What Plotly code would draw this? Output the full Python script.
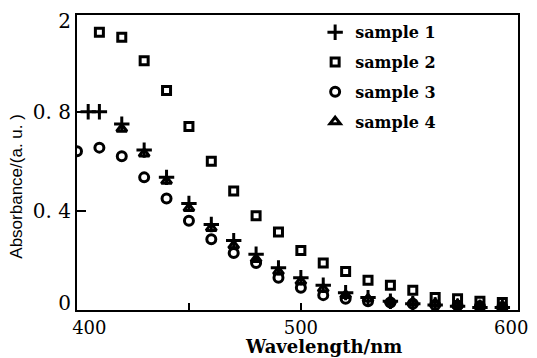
import plotly.graph_objects as go

# ---- data ----
wavelength = [400, 410, 420, 430, 440, 450, 460, 470, 480, 490,
              500, 510, 520, 530, 540, 550, 560, 570, 580, 590]

sample1_wl = [405, 410, 420, 430, 440, 450, 460, 470, 480, 490,
              500, 510, 520, 530, 540, 550, 560, 570, 580, 590]
sample1 = [0.80, 0.80, 0.75, 0.645, 0.535, 0.43, 0.345, 0.28, 0.225, 0.17,
           0.13, 0.10, 0.07, 0.05, 0.035, 0.025, 0.02, 0.015, 0.01, 0.01]

sample2_wl = [410, 420, 430, 440, 450, 460, 470, 480, 490, 500,
              510, 520, 530, 540, 550, 560, 570, 580, 590]
sample2 = [1.12, 1.10, 1.005, 0.885, 0.74, 0.60, 0.48, 0.38, 0.315, 0.24,
           0.19, 0.155, 0.12, 0.10, 0.08, 0.05, 0.045, 0.035, 0.03]

sample3_wl = wavelength
sample3 = [0.64, 0.655, 0.62, 0.535, 0.45, 0.36, 0.285, 0.23, 0.19, 0.13,
           0.09, 0.06, 0.045, 0.035, 0.03, 0.025, 0.02, 0.018, 0.015, 0.012]

sample4_wl = [420, 430, 440, 450, 460, 470, 480, 490, 500,
              510, 520, 530, 540, 550, 560, 570, 580, 590]
sample4 = [0.73, 0.63, 0.52, 0.41, 0.33, 0.26, 0.205, 0.155, 0.115,
           0.085, 0.06, 0.045, 0.035, 0.03, 0.025, 0.02, 0.015, 0.012]

# tick labels (label anchor positions nudged inward like the printed figure)
x_label_vals = [405.5, 500, 594]
x_label_text = ["400", "500", "600"]
x_tick_marks = [450, 500, 550]
y_label_vals = [0.03, 0.4, 0.8, 1.165]
y_label_text = ["0", "0. 4", "0. 8", "2"]
y_tick_marks = [0.4, 0.8]

series = [
    ("sample 1", sample1_wl, sample1, "cross-thin-open", 11),
    ("sample 2", sample2_wl, sample2, "square-open", 8),
    ("sample 3", sample3_wl, sample3, "circle-open", 9),
    ("sample 4", sample4_wl, sample4, "triangle-up-open", 9),
]

fig = go.Figure()
for i, (name, xs, ys, sym, sz) in enumerate(series):
    fig.add_trace(go.Scatter(
        x=xs, y=ys, mode="markers", name=name,
        legendgroup=f"g{i}",
        marker=dict(symbol=sym, size=sz, color="black",
                    line=dict(color="black", width=3)),
    ))

serif = "DejaVu Serif"
fig.update_layout(
    width=537, height=358,
    margin=dict(l=77, r=9, t=13, b=48),
    paper_bgcolor="white", plot_bgcolor="white",
    showlegend=True,
    legend=dict(
        x=0.54, y=0.999, xanchor="left", yanchor="top",
        bgcolor="rgba(0,0,0,0)", borderwidth=0,
        font=dict(family=serif, size=16, color="black", weight="bold"),
        traceorder="grouped", tracegroupgap=6,
    ),
    xaxis=dict(
        range=[400, 597], tickvals=x_label_vals, ticktext=x_label_text,
        ticks="",
        minor=dict(tickvals=x_tick_marks, ticks="inside", ticklen=7,
                   tickwidth=2, tickcolor="black", showgrid=False),
        showline=True, linecolor="black", linewidth=2, mirror=True,
        showgrid=False, zeroline=False,
        tickfont=dict(family=serif, size=18, color="black"),
    ),
    yaxis=dict(
        range=[0, 1.19], tickvals=y_label_vals, ticktext=y_label_text,
        ticks="",
        minor=dict(tickvals=y_tick_marks, ticks="inside", ticklen=9,
                   tickwidth=2, tickcolor="black", showgrid=False),
        showline=True, linecolor="black", linewidth=2, mirror=True,
        showgrid=False, zeroline=False,
        tickfont=dict(family=serif, size=20, color="black"),
    ),
    annotations=[
        dict(text="<b>Wavelength/nm</b>", xref="paper", yref="paper",
             x=0.56, y=-0.083, xanchor="center", yanchor="top", showarrow=False,
             font=dict(family=serif, size=18, color="black")),
        dict(text="Absorbance/(a. u. )", xref="paper", yref="paper",
             x=-0.137, y=0.42, xanchor="center", yanchor="middle",
             textangle=-90, showarrow=False,
             font=dict(family="Liberation Sans Narrow, Liberation Sans", size=17, color="black")),
    ],
)

fig.write_html(
    "out.html",
    config={"displayModeBar": False},
    post_script="document.body.style.margin='0';document.body.style.padding='0';",
)
